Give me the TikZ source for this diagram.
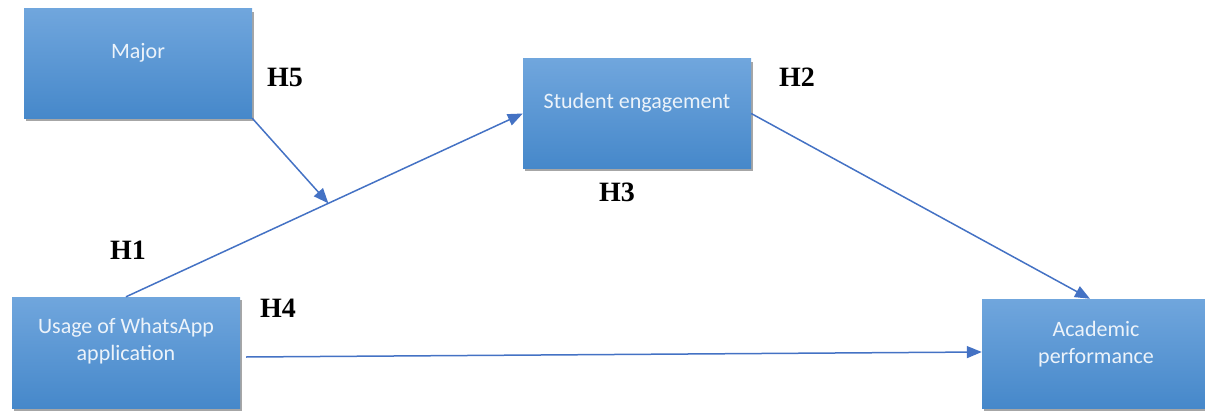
\documentclass[tikz,border=0pt]{standalone}
\usepackage{fontspec}
\setmainfont{Carlito}
\newfontfamily\hfont{Liberation Serif}
\usetikzlibrary{arrows.meta,shadows}
\definecolor{boxtop}{RGB}{112,166,221}
\definecolor{boxbot}{RGB}{70,136,202}
\definecolor{linkblue}{RGB}{68,114,196}
\definecolor{boxtext}{RGB}{236,243,250}
\tikzset{
  varbox/.style={rectangle, minimum width=228pt, minimum height=109pt, inner sep=0pt,
    top color=boxtop, bottom color=boxbot, draw=none,
    drop shadow={shadow xshift=2pt, shadow yshift=-3pt, opacity=0.35, fill=black}},
  boxlabel/.style={text=boxtext, font=\fontsize{22}{27}\selectfont, align=center, inner sep=0pt},
  hyp/.style={font=\hfont\bfseries\fontsize{28}{30}\selectfont, inner sep=0pt},
  link/.style={draw=linkblue, line width=1.5pt, -{Triangle[length=15pt,width=12pt]}}
}
\begin{document}
\begin{tikzpicture}[x=1pt,y=-1pt]
  \useasboundingbox (0,0) rectangle (1205,412);

  % variable boxes
  \node[varbox] (major) at (138,63.5) {};
  \node[varbox] (eng) at (637,113.5) {};
  \node[varbox, minimum height=111pt] (usage) at (126,352.5) {};
  \node[varbox] (perf) at (1096,353.5) {};

  % box captions, set slightly above centre
  \node[boxlabel] (tmajor) at (138,53) {Major};
  \node[boxlabel] (teng) at (637,103) {Student engagement};
  \node[boxlabel] (tusage) at (126,341) {Usage of WhatsApp\\application};
  \node[boxlabel] (tperf) at (1096,344) {Academic\\performance};

  % paths between variables
  \draw[link] (usage.north) -- coordinate[pos=0.51] (mod) (eng.west);
  \draw[link] (major.south east) -- (mod);
  \draw[link] (eng.east) -- ([xshift=-6pt]perf.north);
  \draw[link] ([xshift=6pt,yshift=-4.5pt]usage.east) -- ([yshift=1.5pt]perf.west);

  % hypothesis labels
  \node[hyp] (h5) at (285,77) {H5};
  \node[hyp] (h2) at (797,77) {H2};
  \node[hyp] (h3) at (617,192) {H3};
  \node[hyp] (h1) at (128,250) {H1};
  \node[hyp] (h4) at (278,308) {H4};
\end{tikzpicture}
\end{document}
